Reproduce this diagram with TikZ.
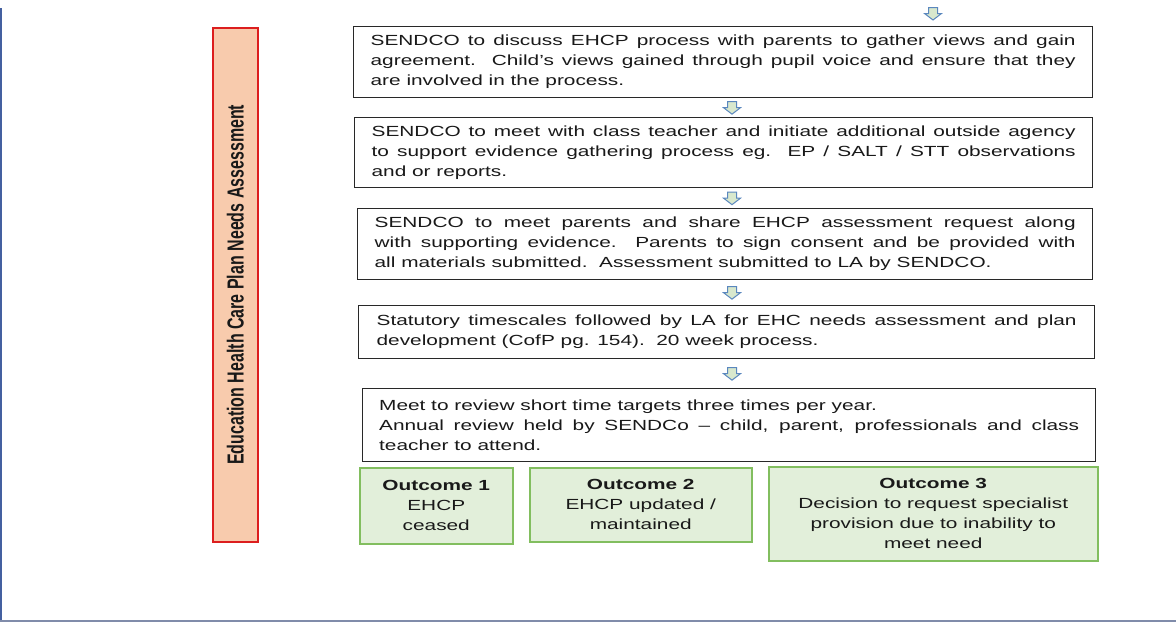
\documentclass[tikz,border=0pt]{standalone}
\usepackage{graphicx}
\usepackage{fontspec}
\setmainfont{Liberation Sans}
\newfontfamily\wideface[FakeStretch=1.42]{Liberation Sans}
\usetikzlibrary{calc}
\setlength{\parindent}{0pt}
\newdimen\pxu \pxu=0.75pt
\definecolor{frameblue}{RGB}{68,96,160}
\definecolor{framegray}{RGB}{128,140,170}
\definecolor{peach}{RGB}{248,203,173}
\definecolor{sidered}{RGB}{220,30,30}
\definecolor{outfill}{RGB}{226,239,218}
\definecolor{outline}{RGB}{130,190,95}
\definecolor{arrfill}{RGB}{216,232,205}
\definecolor{arrline}{RGB}{90,135,190}
\definecolor{boxline}{RGB}{40,40,40}
\definecolor{txt}{RGB}{25,25,25}
\tikzset{
 stepbox/.style={draw=boxline, line width=1.3\pxu, fill=white, anchor=north west,
   inner sep=0pt, align=justify, text=txt,
   font=\wideface\fontsize{11}{15}\selectfont},
 outbox/.style={draw=outline, fill=outfill, line width=1.5\pxu, anchor=north west,
   align=center, inner sep=0pt, text=txt,
   font=\wideface\fontsize{11}{15}\selectfont},
 sidebox/.style={draw=sidered, fill=peach, line width=1.5\pxu, anchor=north west, inner sep=0pt},
 pics/downarr/.style={code={\draw[arrline, fill=arrfill, line width=1\pxu]
   (-4.5,-6)--(4.5,-6)--(4.5,0)--(8.5,0)--(0,6.5)--(-8.5,0)--(-4.5,0)--cycle;}}
}
\begin{document}
\begin{tikzpicture}[x=0.75pt,y=-0.75pt]
\useasboundingbox (0,0) rectangle (1176,622);
\fill[white] (0,0) rectangle (1176,622);
% frame lines
\draw[frameblue, line width=2\pxu] (1,8) -- (1,622);
\draw[framegray, line width=2\pxu] (0,620.5) -- (1176,620.5);
% side label
\node[sidebox, minimum width=45\pxu, minimum height=514\pxu] (side) at (212,27) {};
\node[rotate=90, text=txt, font=\bfseries\fontsize{12}{14}\selectfont] (sidelabel) at (side.center)
  {\scalebox{1}[1.45]{Education Health Care Plan Needs Assessment}};
% steps
\node[stepbox, minimum width=739\pxu, minimum height=71\pxu, text width=705\pxu] (b1) at (353,26)
 {SENDCO to discuss EHCP process with parents to gather views and gain\linebreak
  agreement.\ \ Child’s views gained through pupil voice and ensure that they\linebreak
  are involved in the process.};
\node[stepbox, minimum width=738\pxu, minimum height=70\pxu, text width=704\pxu] (b2) at (354,117)
 {SENDCO to meet with class teacher and initiate additional outside agency\linebreak
  to support evidence gathering process eg.\ \ EP / SALT / STT observations\linebreak
  and or reports.};
\node[stepbox, minimum width=735\pxu, minimum height=71\pxu, text width=701\pxu] (b3) at (357,208)
 {SENDCO to meet parents and share EHCP assessment request along\linebreak
  with supporting evidence.\ \ Parents to sign consent and be provided with\linebreak
  all materials submitted.\ \ Assessment submitted to LA by SENDCO.};
\node[stepbox, minimum width=736\pxu, minimum height=53\pxu, text width=700\pxu] (b4) at (358,305)
 {Statutory timescales followed by LA for EHC needs assessment and plan\linebreak
  development (CofP pg. 154).\ \ 20 week process.};
\node[stepbox, minimum width=733\pxu, minimum height=73\pxu, text width=700\pxu] (b5) at (362,388)
 {Meet to review short time targets three times per year.\par
  Annual review held by SENDCo – child, parent, professionals and class\linebreak
  teacher to attend.};
% outcomes
\node[outbox, minimum width=153\pxu, minimum height=76\pxu] (o1) at (359,467)
 {\textbf{Outcome 1}\\EHCP\\ceased};
\node[outbox, minimum width=222\pxu, minimum height=74\pxu] (o2) at (529,467)
 {\textbf{Outcome 2}\\EHCP updated /\\maintained};
\node[outbox, minimum width=329\pxu, minimum height=94\pxu] (o3) at (768,466)
 {\textbf{Outcome 3}\\Decision to request specialist\\provision due to inability to\\meet need};
% block arrows
\coordinate (ax) at (732,0);
\coordinate (topin) at (933,13.5);
\coordinate (m12) at ($(b1.south)!0.5!(b2.north)$);
\coordinate (m23) at ($(b2.south)!0.5!(b3.north)$);
\coordinate (m34) at ($(b3.south)!0.5!(b4.north)$);
\coordinate (m45) at ($(b4.south)!0.5!(b5.north)$);
\pic at (topin) {downarr};
\pic at (m12 -| ax) {downarr};
\pic at (m23 -| ax) {downarr};
\pic at (m34 -| ax) {downarr};
\pic at (m45 -| ax) {downarr};
\end{tikzpicture}
\end{document}
